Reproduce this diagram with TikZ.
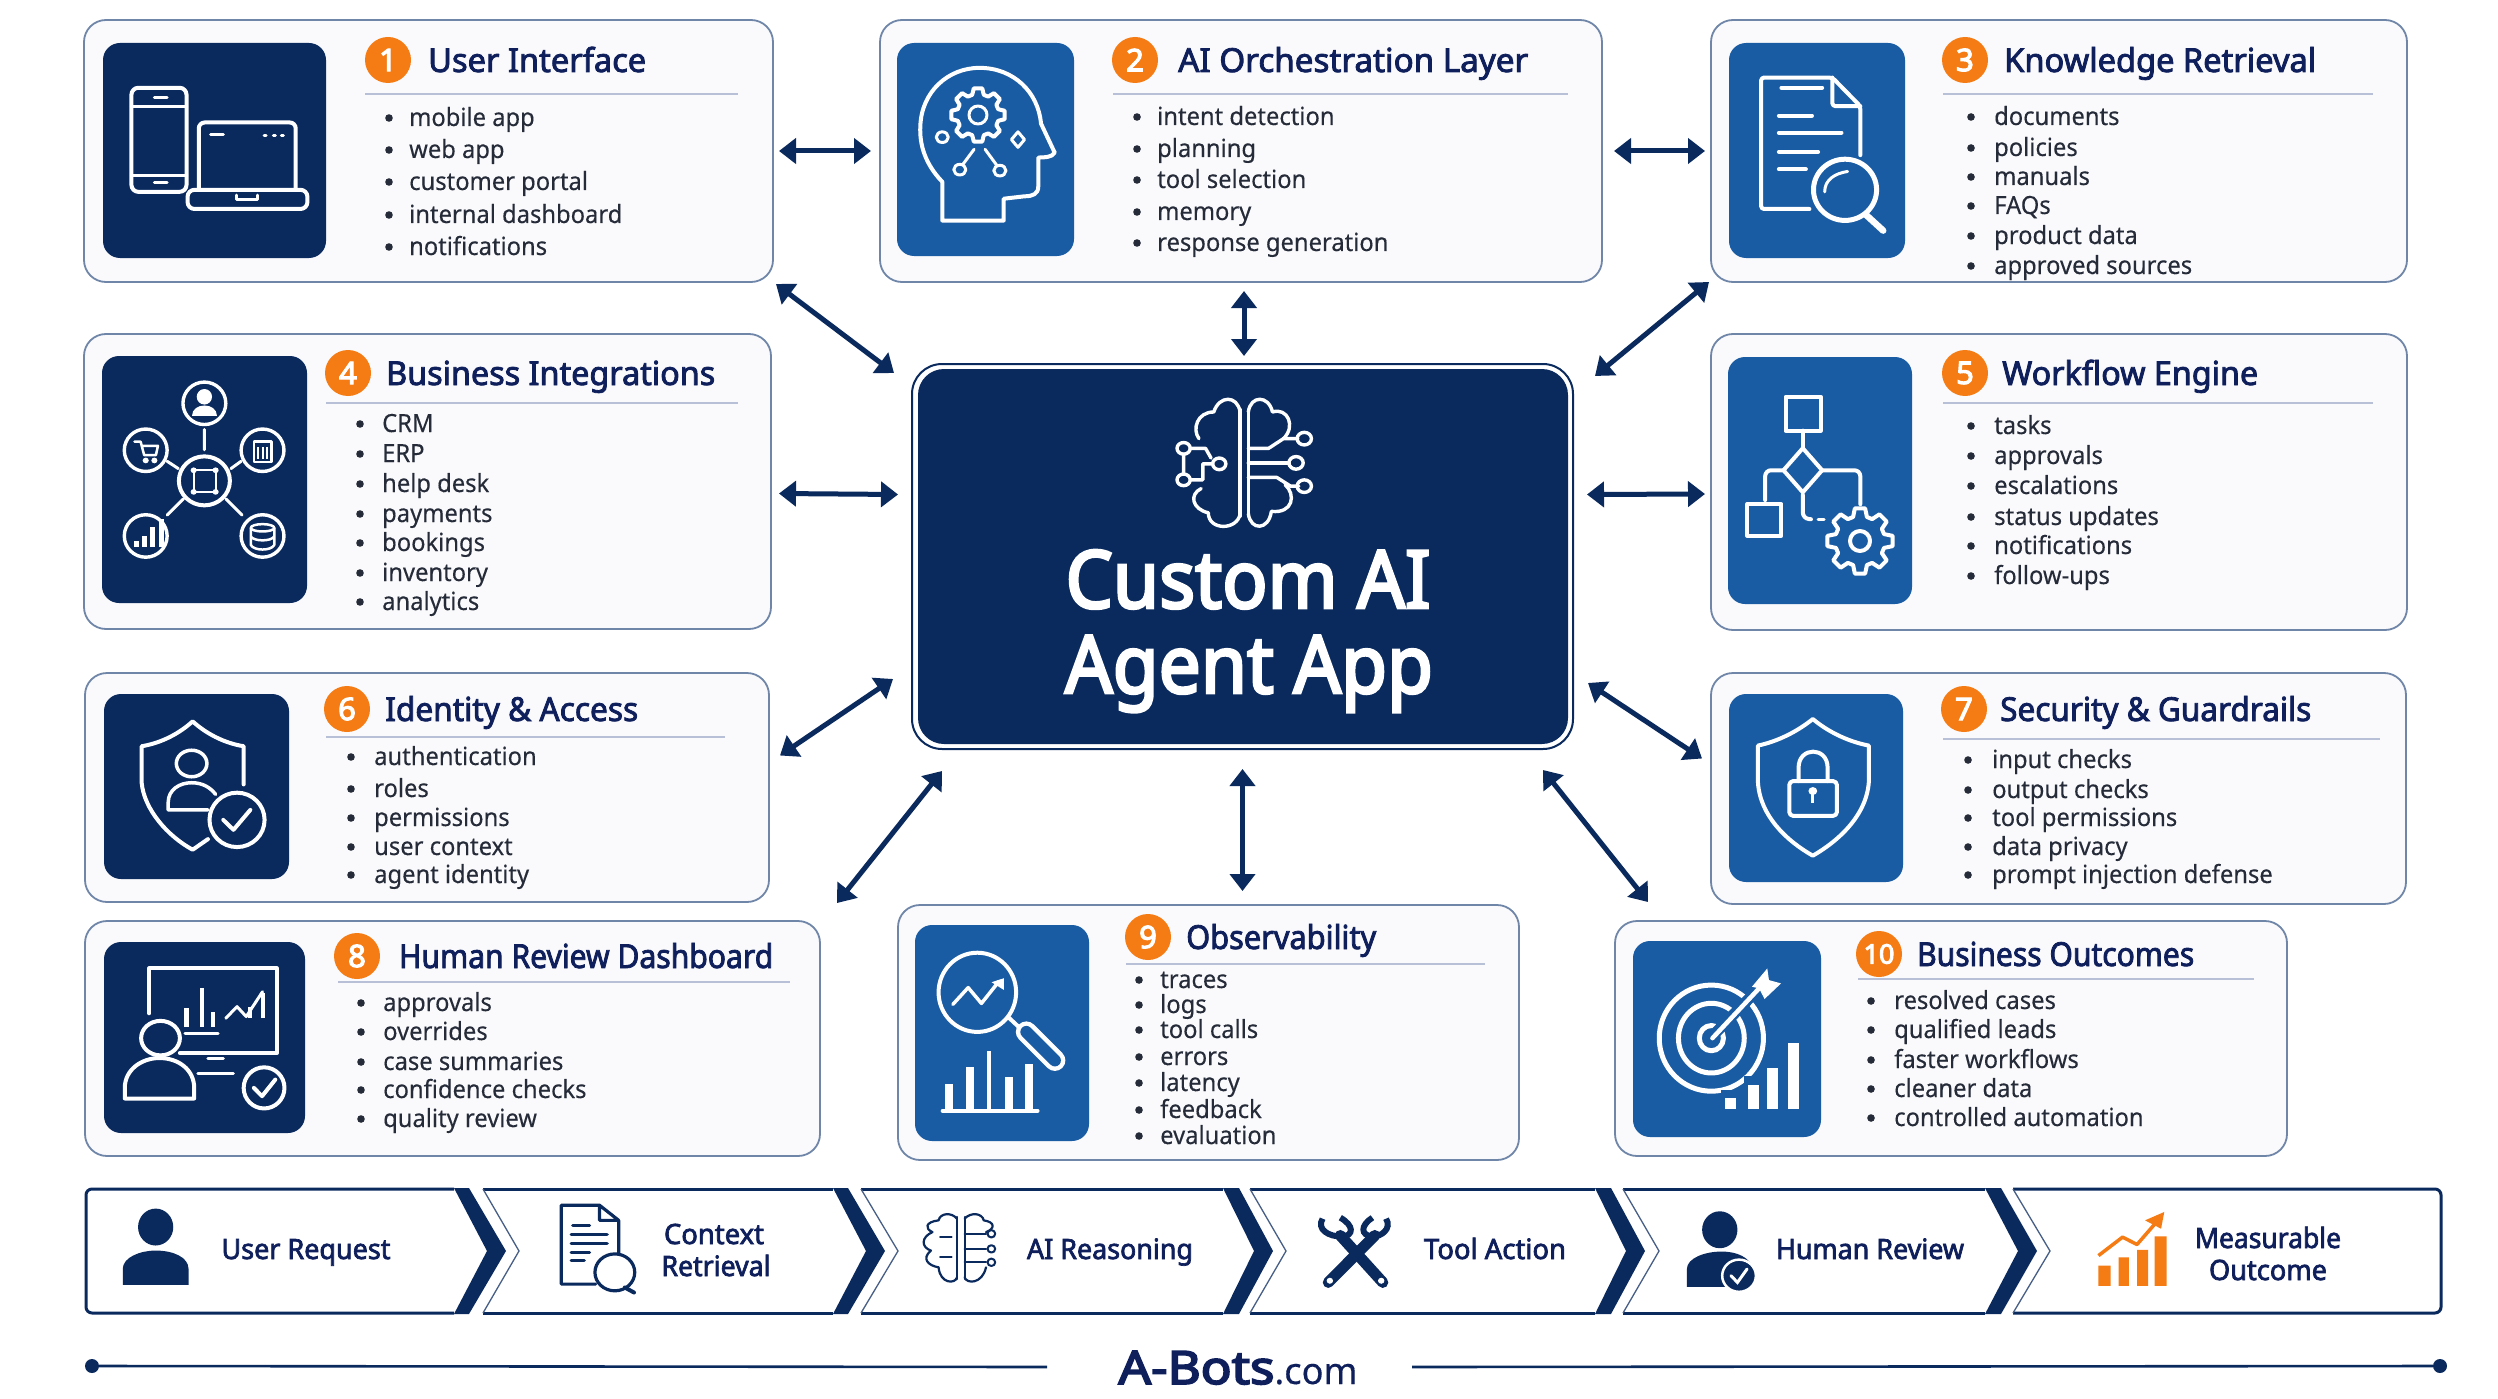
\documentclass[tikz,border=0pt]{standalone}
\usepackage{fontspec}
\usepackage{graphicx}
\setmainfont{Noto Sans}
\newfontfamily\headf[FakeStretch=0.92,FakeBold=2.4]{Noto Sans}
\newfontfamily\numf[FakeBold=3.6]{Noto Sans}
\newfontfamily\bodyf[FakeStretch=0.95,FakeBold=0.25]{Noto Sans}
\usetikzlibrary{arrows.meta,calc}
\definecolor{navy}{HTML}{0A2A5E}
\definecolor{ablue}{HTML}{1A5CA3}
\definecolor{aorange}{HTML}{F57C14}
\definecolor{rulec}{HTML}{B7C0D6}
\definecolor{cardline}{HTML}{6F86A9}
\definecolor{cardfill}{HTML}{FAFAFC}
\definecolor{bodyc}{HTML}{252B38}
\definecolor{titlec}{HTML}{0E1F5C}
\tikzset{
  x=1pt,y=-1pt,
  card/.style={draw=cardline,line width=1.8pt,fill=cardfill,rounded corners=22pt,anchor=north west,inner sep=0pt,outer sep=0pt},
  tile/.style={rounded corners=17pt,anchor=north west,inner sep=0pt,outer sep=0pt},
  numdot/.style={circle,fill=aorange,text=white,inner sep=0pt,minimum size=46pt,font=\numf\fontsize{31}{31}\selectfont},
  titletxt/.style={anchor=base west,inner sep=0pt,text=titlec,font=\headf\fontsize{33}{33}\selectfont},
  bodytxt/.style={anchor=base west,inner sep=0pt,text=bodyc,font=\bodyf\fontsize{25}{25}\selectfont},
  striptxt/.style={anchor=base,inner sep=0pt,text=titlec,font=\headf\fontsize{28}{32}\selectfont},
  coretxt/.style={anchor=base,inner sep=0pt,text=white,font=\numf\fontsize{80}{80}\selectfont},
  rulel/.style={draw=rulec,line width=2pt},
  link/.style={draw=navy,line width=5pt,{Triangle[length=17pt,width=25pt]}-{Triangle[length=17pt,width=25pt]},shorten >=0pt,shorten <=0pt},
  icl/.style={draw=white,line width=4pt,line join=round,line cap=round},
  ith/.style={draw=white,line width=3pt,line join=round,line cap=round},
  nvl/.style={draw=navy,line width=3.2pt,line join=round,line cap=round},
  zA/.style={shift={(60,0)},x=0.5102pt,y=-0.4082pt},
  zB/.style={shift={(860,0)},x=0.5485pt,y=-0.4847pt},
  zC/.style={shift={(1700,0)},x=0.5089pt,y=-0.4082pt},
  zD/.style={shift={(60,660)},x=0.5102pt,y=-0.3317pt},
  zE/.style={shift={(860,750)},x=0.5102pt,y=-0.3356pt},
  zF/.style={shift={(1600,660)},x=0.5485pt,y=-0.3317pt},
  zG/.style={shift={(60,1170)},x=0.7653pt,y=-0.3356pt},
  zH/.style={shift={(1240,1170)},x=0.8023pt,y=-0.3356pt},
}
\newcounter{nn}
\newcommand{\tfit}[2]{\resizebox{#1pt}{\height}{#2}}
% name, x1,y1,x2,y2, tile x1,y1,x2,y2
\newcommand{\cardbox}[9]{%
  \pgfmathsetmacro\cw{#4-#2}\pgfmathsetmacro\ch{#5-#3}%
  \node[card,minimum width=\cw pt,minimum height=\ch pt] (#1) at (#2,#3) {};
  \pgfmathsetmacro\tw{#8-#6}\pgfmathsetmacro\th{#9-#7}%
  \tilefill{#1}{#6}{#7}}
\newcommand{\tilefill}[3]{%
  \node[tile,fill=\tilecol,minimum width=\tw pt,minimum height=\th pt] (#1icon) at (#2,#3) {};}
\def\tilecol{navy}
% name, cx, cy, num, title x, title, rule x1, rule x2, rule y
\newcommand{\headg}[9]{%
  \node[numdot] (#1num) at (#2,#3) {#4};
  \node[titletxt] (#1title) at (#5,#3+12) {#6};
  \coordinate (#1ra) at (#7,#9);
  \coordinate (#1rb) at (#8,#9);
  \draw[rulel] (#1ra) -- (#1rb);}
\newcommand{\litem}[3]{%
  \fill[bodyc] (\bx,#1) circle (3.8);
  \stepcounter{nn}\node[bodytxt] (li\arabic{nn}) at (\tx,#1+#3) {#2};}
\newcommand{\lst}[2]{\def\bx{#1}\def\tx{#2}}
\newcommand{\gearat}[4]{%
  \begin{scope}[shift={(#1,#2)}]
  \draw[icl] ({-16}:#4)
    \foreach \gi in {0,1,...,7}{ -- ({\gi*45-16}:#4) -- ({\gi*45-9}:#3) -- ({\gi*45+9}:#3) -- ({\gi*45+16}:#4) } -- cycle;
  \end{scope}}
\begin{document}
\begin{tikzpicture}
\useasboundingbox (0,0) rectangle (2498,1399);
\fill[white] (0,0) rectangle (2498,1399);

% ---------- cards
\def\tilecol{navy}
\cardbox{ui}{84}{20}{773}{282}{103}{43}{326}{258}
\def\tilecol{ablue}
\cardbox{orch}{880}{20}{1602}{282}{897}{43}{1074}{256}
\cardbox{know}{1711}{20}{2407}{282}{1729}{43}{1905}{258}
\def\tilecol{navy}
\cardbox{biz}{84}{334}{771}{629}{102}{356}{307}{603}
\def\tilecol{ablue}
\cardbox{flow}{1711}{334}{2407}{630}{1728}{357}{1912}{604}
\def\tilecol{navy}
\cardbox{iden}{85}{673}{769}{902}{104}{694}{289}{879}
\def\tilecol{ablue}
\cardbox{secu}{1711}{673}{2406}{904}{1729}{694}{1903}{882}
\def\tilecol{navy}
\cardbox{revw}{85}{921}{820}{1156}{104}{942}{305}{1133}
\def\tilecol{ablue}
\cardbox{obsv}{898}{905}{1519}{1160}{915}{925}{1089}{1141}
\cardbox{outc}{1615}{921}{2287}{1156}{1633}{941}{1821}{1137}

% ---------- headings
\headg{ui}{388}{60}{1}{428}{\tfit{218}{User Interface}}{365}{738}{94}
\headg{orch}{1135}{60}{2}{1178}{\tfit{350}{AI Orchestration Layer}}{1113}{1568}{94}
\headg{know}{1965}{60}{3}{2004}{\tfit{312}{Knowledge Retrieval}}{1943}{2373}{94}
\headg{biz}{348}{373}{4}{386}{\tfit{329}{Business Integrations}}{326}{738}{403}
\headg{flow}{1965}{373}{5}{2002}{\tfit{256}{Workflow Engine}}{1943}{2373}{403}
\headg{iden}{347}{709}{6}{385}{\tfit{253}{Identity \& Access}}{326}{725}{737}
\headg{secu}{1964}{709}{7}{2000}{\tfit{311}{Security \& Guardrails}}{1943}{2380}{739}
\headg{revw}{357}{956}{8}{399}{\tfit{374}{Human Review Dashboard}}{338}{790}{982}
\headg{obsv}{1148}{937}{9}{1186}{\tfit{190}{Observability}}{1126}{1485}{964}
\headg{outc}{1879}{954}{\fontsize{27}{27}\selectfont 10}{1917}{\tfit{277}{Business Outcomes}}{1858}{2254}{979}

% ---------- lists
\def\dy{8}
\lst{389}{409}
\litem{118}{mobile app}{\dy}\litem{150}{web app}{\dy}\litem{182}{customer portal}{\dy}\litem{215}{internal dashboard}{\dy}\litem{247}{notifications}{\dy}
\lst{1137}{1157}
\litem{117}{intent detection}{\dy}\litem{149}{planning}{\dy}\litem{180}{tool selection}{\dy}\litem{212}{memory}{\dy}\litem{243}{response generation}{\dy}
\lst{1971}{1994}
\litem{117}{documents}{\dy}\litem{148}{policies}{\dy}\litem{177}{manuals}{\dy}\litem{206}{FAQs}{\dy}\litem{236}{product data}{\dy}\litem{266}{approved sources}{\dy}
\lst{360}{382}
\litem{424}{CRM}{\dy}\litem{454}{ERP}{\dy}\litem{484}{help desk}{\dy}\litem{514}{payments}{\dy}\litem{543}{bookings}{\dy}\litem{573}{inventory}{\dy}\litem{602}{analytics}{\dy}
\lst{1971}{1994}
\litem{426}{tasks}{\dy}\litem{456}{approvals}{\dy}\litem{486}{escalations}{\dy}\litem{517}{status updates}{\dy}\litem{546}{notifications}{\dy}\litem{576}{follow-ups}{\dy}
\lst{351}{374}
\litem{757}{authentication}{\dy}\litem{789}{roles}{\dy}\litem{818}{permissions}{\dy}\litem{847}{user context}{\dy}\litem{875}{agent identity}{\dy}
\lst{1968}{1992}
\litem{760}{input checks}{\dy}\litem{790}{output checks}{\dy}\litem{818}{tool permissions}{\dy}\litem{847}{data privacy}{\dy}\litem{875}{prompt injection defense}{\dy}
\lst{361}{383}
\litem{1003}{approvals}{\dy}\litem{1032}{overrides}{\dy}\litem{1062}{case summaries}{\dy}\litem{1090}{confidence checks}{\dy}\litem{1119}{quality review}{\dy}
\lst{1139}{1160}
\litem{980}{traces}{\dy}\litem{1005}{logs}{\dy}\litem{1030}{tool calls}{\dy}\litem{1057}{errors}{\dy}\litem{1083}{latency}{\dy}\litem{1110}{feedback}{\dy}\litem{1136}{evaluation}{\dy}
\lst{1871}{1894}
\litem{1001}{resolved cases}{\dy}\litem{1030}{qualified leads}{\dy}\litem{1060}{faster workflows}{\dy}\litem{1089}{cleaner data}{\dy}\litem{1118}{controlled automation}{\dy}

% ---------- centre
\node[draw=navy,line width=2pt,fill=white,rounded corners=30pt,minimum width=661pt,minimum height=385pt,anchor=north west,inner sep=0pt,outer sep=0pt] (core) at (912,364) {};
\node[fill=navy,rounded corners=26pt,minimum width=650pt,minimum height=375pt,anchor=north west,inner sep=0pt,outer sep=0pt] (corefill) at (918,369) {};
\node[coretxt] (coret) at (1248,608) {\tfit{365}{Custom AI}};
\node[coretxt] (coreb) at (1249,693) {\tfit{368}{Agent App}};
\begin{scope}[zB]
 \draw[ith,line width=3.4pt] (693,845) -- (693,1065) (708,845) -- (708,1065);
 \draw[ith,line width=3.4pt] (708,850) .. controls (712,815) and (745,815) .. (752,850) .. controls (780,840) and (795,880) .. (772,905);
 \draw[ith,line width=3.4pt] (693,850) .. controls (688,815) and (655,815) .. (645,850) .. controls (615,850) and (605,885) .. (618,905);
 \draw[ith,line width=3.4pt] (708,925) -- (745,925) -- (772,905) -- (798,905);
 \draw[ith,line width=3.4pt] (708,955) -- (782,955);
 \draw[ith,line width=3.4pt] (708,985) -- (760,985) -- (785,1003) -- (800,1003);
 \draw[ith,line width=3.4pt] (810,905) circle[x radius=13,y radius=13] (795,955) circle[x radius=13,y radius=13] (810,1003) circle[x radius=13,y radius=13];
 \draw[ith,line width=3.4pt] (590,925) circle[x radius=12,y radius=12] (590,990) circle[x radius=12,y radius=12] (655,957) circle[x radius=12,y radius=12];
 \draw[ith,line width=3.4pt] (602,925) -- (630,925) -- (640,945) (590,937) -- (590,978) (602,990) -- (625,990) -- (625,957) -- (643,957);
 \draw[ith,line width=3.4pt] (708,1060) .. controls (712,1095) and (745,1095) .. (750,1055) .. controls (790,1060) and (795,1020) .. (775,1000);
 \draw[ith,line width=3.4pt] (693,1060) .. controls (688,1095) and (635,1095) .. (635,1058) .. controls (605,1050) and (600,1020) .. (622,1008);
\end{scope}

% ---------- connectors
\draw[link] ($(ui.east)+(6,0)$) -- ($(orch.west)+(-9,0)$);
\draw[link] ($(orch.east)+(12,0)$) -- ($(know.west)+(-6,0)$);
\draw[link] ($(core.north)+(1.5,-8)$) -- ($(core.north)+(1.5,-73)$);
\draw[link] ($(ui.south east)+(3,2)$) -- ($(core.north west)+(-18,9)$);
\draw[link] ($(core.north east)+(22,12)$) -- ($(know.south west)+(-2,0)$);
\draw[link] ($(biz.east)+(8,12)$) -- ($(core.west)+(-14,-62)$);
\draw[link] ($(core.east)+(14,-62)$) -- ($(flow.west)+(-6,12)$);
\draw[link] ($(iden.east)+(11,-32)$) -- ($(core.south west)+(-19,-70)$);
\draw[link] ($(core.south east)+(15,-66)$) -- ($(secu.west)+(-9,-30)$);
\draw[link] ($(revw.north east)+(17,-18)$) -- ($(core.south west)+(30,22)$);
\draw[link] ($(core.south)+(0,20)$) -- ($(core.south)+(0,142)$);
\draw[link] ($(core.south east)+(-30,21)$) -- ($(outc.north west)+(33,-19)$);

% ---------- icon 1
\begin{scope}[zA]
 \draw[icl,rounded corners=7pt] (140,215) rectangle (248,470);
 \draw[ith] (185,238) -- (210,238) (185,447) -- (210,447);
 \draw[ith] (140,262) -- (248,262) (140,430) -- (248,430);
 \draw[icl,fill=navy,rounded corners=6pt] (272,465) -- (272,300) -- (462,300) -- (462,465);
 \draw[ith] (295,330) -- (320,330) (400,331) -- (404,331) (418,331) -- (422,331) (434,331) -- (438,331);
 \draw[icl,fill=navy,rounded corners=7pt] (250,465) rectangle (485,512);
 \draw[ith] (345,478) -- (345,488) -- (388,488) -- (388,478);
\end{scope}
% ---------- icon 2
\begin{scope}[zB]
 \draw[icl] (150,455) -- (150,375) .. controls (120,340) and (108,300) .. (110,260) .. controls (112,190) and (160,140) .. (218,140) .. controls (280,140) and (325,190) .. (330,255) -- (355,315) .. controls (350,325) and (335,325) .. (325,325) -- (325,385) .. controls (325,400) and (315,405) .. (300,405) -- (262,410) -- (262,455) -- cycle;
\end{scope}
\gearat{978}{115}{27}{21}
\draw[icl,line width=3pt] (978,115) circle (9);
\begin{scope}[zB]
 \draw[ith] (150,283) circle[x radius=11,y radius=11] (182,350) circle[x radius=11,y radius=11] (255,352) circle[x radius=11,y radius=11];
 \draw[ith] (288,272) -- (300,288) -- (288,304) -- (276,288) -- cycle;
 \draw[ith] (208,308) -- (187,340) (228,308) -- (250,342);
\end{scope}
% ---------- icon 3
\begin{scope}[zC]
 \draw[icl,rounded corners=3pt] (215,512) -- (120,512) -- (120,190) -- (260,190) -- (315,260) -- (315,380);
 \draw[icl,rounded corners=3pt] (260,190) -- (260,260) -- (315,260);
 \draw[icl] (160,215) -- (240,215) (155,283) -- (220,283) (155,325) -- (278,325) (155,372) -- (232,372) (155,415) -- (208,415);
 \draw[icl,line width=5pt] (285,465) circle[x radius=62,y radius=75];
 \draw[ith] (245,470) .. controls (245,440) and (265,425) .. (290,420);
 \draw[icl,line width=6.5pt] (325,525) -- (360,565);
\end{scope}
% ---------- icon 4
\begin{scope}[zA]
 \foreach \p in {(283,988),(168,1103),(397,1103),(168,1313),(397,1313)}
   \draw[ith,line width=3.4pt] \p circle[x radius=42,y radius=52];
 \draw[ith,line width=4pt] (283,1178) circle[x radius=50,y radius=60];
 \draw[ith] (283,1052) -- (283,1102) (210,1130) -- (232,1148) (355,1130) -- (335,1148) (242,1222) -- (210,1262) (325,1222) -- (357,1262);
 \fill[white] (283,972) circle[x radius=15,y radius=19];
 \fill[white] (258,1018) .. controls (258,985) and (308,985) .. (308,1018) -- cycle;
 \draw[ith,line width=2.5pt] (146,1082) -- (158,1082) -- (165,1115) -- (188,1115) -- (192,1092) -- (160,1092);
 \fill[white] (168,1128) circle[x radius=6,y radius=7] (185,1128) circle[x radius=6,y radius=7];
 \draw[ith,line width=2.5pt] (380,1132) -- (380,1082) -- (415,1082) -- (415,1132) -- cycle;
 \draw[white,line width=2pt] (389,1095) -- (389,1125) (397,1095) -- (397,1125) (406,1095) -- (406,1125);
 \foreach \xa/\ya in {150/1325,165/1312,182/1290,198/1272} \draw[white,line width=5pt] (\xa,1340) -- (\xa,\ya);
 \draw[ith,line width=2.5pt] (397,1293) circle[x radius=23,y radius=9];
 \draw[ith,line width=2.5pt] (374,1293) -- (374,1335) .. controls (380,1350) and (414,1350) .. (420,1335) -- (420,1293) (374,1314) .. controls (380,1327) and (414,1327) .. (420,1314);
 \draw[ith,line width=2pt] (262,1152) -- (305,1152) -- (305,1205) -- (262,1205) -- cycle;
 \foreach \p in {(262,1152),(305,1152),(262,1205),(305,1205)} \fill[white] \p circle[x radius=6,y radius=7];
\end{scope}
% ---------- icon 5
\begin{scope}[zC]
 \draw[icl] (168,972) rectangle (237,1055);
 \draw[icl] (202,1055) -- (202,1098);
 \draw[icl] (202,1098) -- (240,1152) -- (202,1206) -- (164,1152) -- cycle;
 \draw[icl,rounded corners=6pt] (164,1152) -- (128,1152) -- (128,1225);
 \draw[icl,rounded corners=6pt] (240,1152) -- (315,1152) -- (315,1235);
 \draw[icl] (93,1235) rectangle (160,1312);
 \draw[icl,rounded corners=6pt] (202,1212) -- (202,1270) -- (218,1272);
 \draw[ith] (232,1272) -- (244,1272);
\end{scope}
\gearat{1860}{541}{33}{25}
\draw[icl] (1860,541) circle (10);
% ---------- icon 6
\begin{scope}[zD]
 \draw[icl] (360,375) -- (360,260) .. controls (320,250) and (285,220) .. (260,185) .. controls (235,220) and (200,250) .. (160,260) -- (160,370) .. controls (165,450) and (210,530) .. (260,572) -- (290,540);
 \draw[ith,line width=3.5pt] (258,312) circle[x radius=30,y radius=40];
 \draw[ith,line width=3.5pt] (290,452) -- (212,452) -- (212,430) .. controls (212,390) and (235,370) .. (258,370) .. controls (280,370) and (295,385) .. (305,405);
 \draw[icl] (347,482) circle[x radius=54,y radius=82];
 \draw[icl] (320,482) -- (340,512) -- (373,452);
\end{scope}
% ---------- icon 7
\begin{scope}[zF]
 \draw[icl] (388,178) .. controls (360,215) and (325,245) .. (288,258) -- (288,370) .. controls (292,470) and (340,545) .. (388,590) .. controls (435,545) and (485,470) .. (490,370) -- (490,258) .. controls (450,245) and (415,215) .. (388,178) -- cycle;
 \draw[icl,rounded corners=4pt] (345,365) rectangle (432,470);
 \draw[icl] (362,365) -- (362,325) .. controls (362,260) and (415,260) .. (415,325) -- (415,365);
 \fill[white] (388,395) circle[x radius=8,y radius=12];
 \draw[white,line width=3pt] (388,395) -- (388,432);
\end{scope}
% ---------- icon 8
\begin{scope}[zD]
 \draw[icl] (175,1065) -- (175,930) -- (425,930) -- (425,1185) -- (235,1185);
 \draw[ith] (290,1200) -- (320,1200) (270,1248) -- (340,1248);
 \foreach \xa/\ya in {248/1050,278/990,300/1060} \draw[white,line width=4.5pt] (\xa,1105) -- (\xa,\ya);
 \draw[ith] (245,1125) -- (310,1125);
 \draw[ith] (325,1080) -- (347,1045) -- (365,1075) -- (397,1000);
 \draw[white,line width=4pt] (372,1080) -- (372,1045) (397,1080) -- (397,1005);
 \draw[icl,fill=navy] (197,1140) circle[x radius=38,y radius=52];
 \draw[icl] (127,1322) -- (127,1290) .. controls (127,1235) and (160,1200) .. (195,1200) .. controls (232,1200) and (263,1235) .. (263,1290) -- (263,1322) -- cycle;
 \draw[icl] (400,1290) circle[x radius=40,y radius=62];
 \draw[icl] (380,1290) -- (396,1315) -- (422,1265);
\end{scope}
% ---------- icon 9
\begin{scope}[zE]
 \draw[icl] (230,722) circle[x radius=76,y radius=118];
 \draw[ith,line width=3.5pt] (182,758) -- (212,708) -- (238,755) -- (272,690);
 \fill[white] (282,680) -- (258,692) -- (282,715) -- cycle;
 \draw[icl] (292,798) -- (318,835);
 \draw[white,line width=21pt,line cap=round] (326,840) -- (382,925);
 \draw[ablue,line width=12pt,line cap=round] (326,840) -- (382,925);
 \foreach \xa/\ya/\wd in {175/995/8,215/945/8,253/898/4,292/975/8,332/935/8} \draw[white,line width=\wd pt] (\xa,1075) -- (\xa,\ya);
 \draw[icl] (162,1075) -- (348,1075);
\end{scope}
% ---------- icon 10
\begin{scope}[zF]
 \draw[icl,line width=5pt] (203,1140) circle[x radius=95,y radius=160];
 \draw[icl,line width=5pt] (203,1140) circle[x radius=60,y radius=105];
 \draw[icl,line width=5pt] (203,1140) circle[x radius=22,y radius=38];
 \draw[ablue,line width=11pt] (210,1125) -- (290,990);
 \draw[icl,line width=4.5pt] (205,1140) -- (290,990);
 \fill[white] (277,985) -- (305,930) -- (308,965) -- (330,975) -- (300,1022) -- (290,990) -- cycle;
 \foreach \xa/\ya in {238/1320,280/1280,315/1230,352/1155} {\fill[ablue] (\xa-18,\ya-25) rectangle (\xa+18,1365); \fill[white] (\xa-10,\ya) rectangle (\xa+10,1355);}
\end{scope}

% ---------- process strip
\begin{scope}[line join=miter]
 \draw[navy,line width=3pt,rounded corners=6pt] (454,1189) -- (86,1189) -- (86,1313) -- (454,1313);
 \fill[navy] (454,1188) -- (469,1188) -- (506,1251) -- (469,1314) -- (454,1314) -- (487,1251) -- cycle;
 \foreach \la/\no/\ba/\bb/\ti in {483/519/833/848/885,861/898/1223/1239/1273,1250/1286/1595/1611/1645,1623/1659/1985/2001/2037}{
  \draw[navy,line width=3pt] (\la,1189) -- (\ba,1189) (\la,1313) -- (\ba,1313);
  \draw[navy!75,line width=1.3pt] (\la,1189) -- (\no,1251) -- (\la,1313);
  \fill[navy] (\ba,1188) -- (\bb,1188) -- (\ti,1251) -- (\bb,1314) -- (\ba,1314) -- ({\ti-19},1251) -- cycle;
 }
 \draw[navy,line width=3pt,rounded corners=6pt] (2013,1189) -- (2441,1189) -- (2441,1313) -- (2013,1313);
 \draw[navy!75,line width=1.3pt] (2013,1189) -- (2050,1251) -- (2013,1313);
\end{scope}
\node[striptxt] (s1) at (306,1259) {\tfit{169}{User Request}};
\node[striptxt] (s2a) at (714,1244) {\tfit{100}{Context}};
\node[striptxt] (s2b) at (716,1276) {\tfit{109}{Retrieval}};
\node[striptxt] (s3) at (1110,1259) {\tfit{166}{AI Reasoning}};
\node[striptxt] (s4) at (1495,1259) {\tfit{142}{Tool Action}};
\node[striptxt] (s5) at (1870,1259) {\tfit{188}{Human Review}};
\node[striptxt] (s6a) at (2268,1248) {\tfit{146}{Measurable}};
\node[striptxt] (s6b) at (2268,1280) {\tfit{118}{Outcome}};
\begin{scope}[zG]
 \fill[navy] (125,170) circle[x radius=23,y radius=55];
 \fill[navy] (82,342) -- (82,295) .. controls (82,260) and (105,240) .. (125,240) .. controls (148,240) and (168,260) .. (168,295) -- (168,342) -- cycle;
 \draw[nvl] (700,340) -- (655,340) -- (655,105) -- (705,105) -- (730,150) -- (730,250) (705,105) -- (705,150) -- (730,150);
 \draw[nvl] (670,165) -- (692,165) (668,192) -- (715,192) (668,220) -- (715,220) (668,245) -- (692,245) (668,270) -- (685,270);
 \draw[nvl] (725,305) circle[x radius=26,y radius=55];
 \draw[nvl,line width=4pt] (738,350) -- (750,365);
 % small brain
 \draw[nvl,line width=2.2pt] (1172,140) -- (1172,325) (1182,140) -- (1182,325);
 \draw[nvl,line width=2.2pt] (1172,145) .. controls (1165,125) and (1150,128) .. (1148,150) .. controls (1130,155) and (1130,175) .. (1140,185) .. controls (1125,200) and (1125,230) .. (1138,240) .. controls (1125,265) and (1135,285) .. (1148,290) .. controls (1150,340) and (1170,340) .. (1172,320);
 \draw[nvl,line width=2.2pt] (1182,145) .. controls (1190,125) and (1205,128) .. (1207,150) .. controls (1222,155) and (1222,175) .. (1210,185);
 \draw[nvl,line width=2.2pt] (1210,290) .. controls (1205,340) and (1185,340) .. (1182,320);
 \draw[nvl,line width=2pt] (1182,190) -- (1210,190) (1182,235) -- (1210,235) (1182,275) -- (1210,275);
 \draw[nvl,line width=2pt] (1217,190) circle[x radius=5,y radius=11] (1217,235) circle[x radius=5,y radius=11] (1217,275) circle[x radius=5,y radius=11];
 \draw[nvl,line width=2pt] (1150,200) -- (1165,200) (1150,260) -- (1165,260);
\end{scope}
\begin{scope}[zH]
 % tools
 \draw[navy,line width=11pt,line cap=round] (125,195) -- (178,335);
 \draw[navy,line width=11pt,line cap=round] (168,195) -- (110,335);
 \draw[navy,line width=6pt] (103,145) .. controls (95,175) and (110,200) .. (128,198) .. controls (142,195) and (142,165) .. (125,142);
 \draw[navy,line width=6pt] (182,145) .. controls (190,175) and (175,200) .. (165,198) .. controls (150,195) and (150,165) .. (165,142);
 \fill[white] (112,330) circle[x radius=4,y radius=9];
 \fill[white] (176,330) circle[x radius=4,y radius=9];
 % human + check
 \fill[navy] (598,178) circle[x radius=22,y radius=55];
 \fill[navy] (557,348) -- (557,295) .. controls (557,262) and (580,243) .. (600,243) .. controls (620,243) and (635,260) .. (640,295) -- (620,348) -- cycle;
 \draw[white,fill=navy,line width=2.5pt] (622,315) circle[x radius=21,y radius=48];
 \draw[white,line width=3pt,line cap=round] (612,315) -- (620,335) -- (632,295);
 % chart
 \fill[aorange] (1070,285) rectangle (1085,345) (1095,260) rectangle (1108,345) (1118,238) rectangle (1132,345) (1140,198) rectangle (1155,345);
 \draw[aorange,line width=3.5pt,line join=round] (1070,255) -- (1100,200) -- (1118,222) -- (1146,145);
 \fill[aorange] (1152,125) -- (1128,150) -- (1148,175) -- cycle;
\end{scope}

% ---------- footer
\node[circle,fill=navy,inner sep=0pt,minimum size=14pt] (dotl) at (92,1366) {};
\node[circle,fill=navy,inner sep=0pt,minimum size=14pt] (dotr) at (2440,1366) {};
\coordinate (fla) at (1047,1367);
\coordinate (flb) at (1412,1367);
\draw[navy,line width=2.6pt] (dotl) -- (fla);
\draw[navy,line width=2.6pt] (flb) -- (dotr);
\node[anchor=base,inner sep=0pt,text=titlec] (brand) at (1238,1384) {\numf\fontsize{46}{46}\selectfont\tfit{156}{A-Bots}\bodyf\fontsize{37}{37}\selectfont\tfit{83}{.com}};
\end{tikzpicture}
\end{document}
